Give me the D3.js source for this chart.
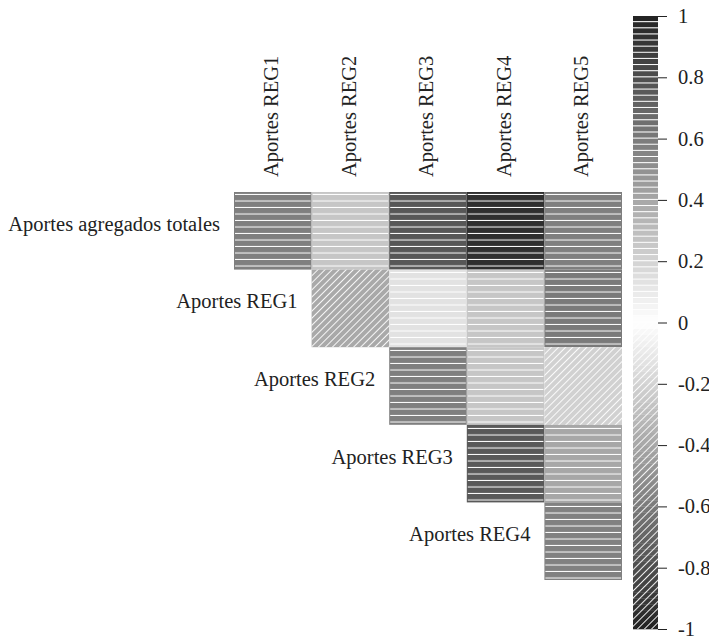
<!DOCTYPE html>
<html>
<head>
<meta charset="utf-8">
<script src="https://cdn.jsdelivr.net/npm/d3@7"></script>
<style>
  body { margin: 0; background: #fff; }
  text { font-family: "Liberation Serif", "DejaVu Serif", serif; fill: #222; }
</style>
</head>
<body>
<script>
// data
var rowLabels = ["Aportes agregados totales", "Aportes REG1", "Aportes REG2", "Aportes REG3", "Aportes REG4"];
var colLabels = ["Aportes REG1", "Aportes REG2", "Aportes REG3", "Aportes REG4", "Aportes REG5"];

var corrTotales = [0.58, 0.26, 0.76, 0.94, 0.58];
var corrREG1 = [null, -0.39, 0.13, 0.26, 0.60];
var corrREG2 = [null, null, 0.58, 0.26, -0.21];
var corrREG3 = [null, null, null, 0.75, 0.40];
var corrREG4 = [null, null, null, null, 0.57];

var legendTicks = [1, 0.8, 0.6, 0.4, 0.2, 0, -0.2, -0.4, -0.6, -0.8, -1];

var w = 709, h = 639;
var fontSize = 20.5;

var rows = [corrTotales, corrREG1, corrREG2, corrREG3, corrREG4];
var cells = [];
rows.forEach(function (vals, i) {
    vals.forEach(function (v, j) {
        if (v !== null) cells.push({row: rowLabels[i], col: colLabels[j], value: v});
    });
});

var x = d3.scaleBand().domain(colLabels).range([234, 622]);
var y = d3.scaleBand().domain(rowLabels).range([192, 580]);
var color = d3.scaleLinear().domain([-1, 0, 1]).range(["#222222", "#ffffff", "#222222"]);

var svg = d3.select("body").append("svg")
    .attr("width", w)
    .attr("height", h);

var defs = svg.append("defs");

// horizontal white lines for positive values
var hp = defs.append("pattern")
    .attr("id", "hlines")
    .attr("patternUnits", "userSpaceOnUse")
    .attr("width", 20)
    .attr("height", 6.5);
hp.append("rect")
    .attr("x", 0).attr("y", 5.5)
    .attr("width", 20).attr("height", 1.1)
    .attr("fill", "#fff");

// diagonal hatch for negative values
var dp = defs.append("pattern")
    .attr("id", "hatch")
    .attr("patternUnits", "userSpaceOnUse")
    .attr("width", 5)
    .attr("height", 5)
    .attr("patternTransform", "rotate(45)");
dp.append("rect")
    .attr("x", 0).attr("y", 0)
    .attr("width", 1).attr("height", 5)
    .attr("fill", "#fff")
    .attr("fill-opacity", 0.9);

// cells
var cell_g = svg.append("g").attr("class", "cells");

cell_g.selectAll(".cell")
    .data(cells)
    .enter()
    .append("rect")
    .attr("class", "cell")
    .attr("x", d => x(d.col))
    .attr("y", d => y(d.row))
    .attr("width", x.bandwidth())
    .attr("height", y.bandwidth())
    .attr("fill", d => color(d.value));

cell_g.selectAll(".texture")
    .data(cells)
    .enter()
    .append("rect")
    .attr("class", "texture")
    .attr("x", d => x(d.col) + (d.value > 0 ? 1 : 0))
    .attr("y", d => y(d.row))
    .attr("width", d => x.bandwidth() - (d.value > 0 ? 2 : 0))
    .attr("height", y.bandwidth())
    .attr("fill", d => d.value > 0 ? "url(#hlines)" : "url(#hatch)");

// column labels
svg.append("g").selectAll("text")
    .data(colLabels)
    .enter()
    .append("text")
    .attr("transform", d => "translate(" + (x(d) + x.bandwidth() / 2) + ",177) rotate(-90)")
    .attr("dy", "0.25em")
    .style("font-size", fontSize + "px")
    .text(d => d);

// row labels
svg.append("g").selectAll("text")
    .data(rowLabels)
    .enter()
    .append("text")
    .attr("x", (d, i) => x(colLabels[i]) - 14)
    .attr("y", d => y(d) + y.bandwidth() / 2)
    .attr("text-anchor", "end")
    .style("font-size", fontSize + "px")
    .text(d => d);

// legend
var ly = d3.scaleLinear().domain([-1, 1]).range([629, 16]);
var steps = d3.range(-1, 1, 0.02);
var stepH = ly(-1) - ly(-0.98);
var leg_g = svg.append("g").attr("class", "legend");

leg_g.selectAll(".step")
    .data(steps)
    .enter()
    .append("rect")
    .attr("x", 633)
    .attr("y", d => ly(d + 0.02))
    .attr("width", 25)
    .attr("height", stepH + 0.3)
    .attr("fill", d => color(d + 0.01));

leg_g.selectAll(".sep")
    .data(steps.filter(d => d >= -0.001))
    .enter()
    .append("rect")
    .attr("x", 633)
    .attr("y", d => ly(d + 0.02) + stepH - 1)
    .attr("width", 25)
    .attr("height", 1)
    .attr("fill", "#fff");

leg_g.append("rect")
    .attr("x", 633)
    .attr("y", ly(0))
    .attr("width", 25)
    .attr("height", ly(-1) - ly(0))
    .attr("fill", "url(#hatch)");

var axis = d3.axisRight(ly)
    .tickValues(legendTicks)
    .tickFormat(d => String(d))
    .tickSize(9)
    .tickPadding(11);

var ax = svg.append("g")
    .attr("transform", "translate(658,0)")
    .call(axis);
ax.select(".domain").remove();
ax.selectAll("line").attr("stroke", "#222");
ax.selectAll("text")
    .style("font-size", fontSize + "px")
    .style("font-family", "'Liberation Serif', 'DejaVu Serif', serif")
    .attr("fill", "#222");
</script>
</body>
</html>
